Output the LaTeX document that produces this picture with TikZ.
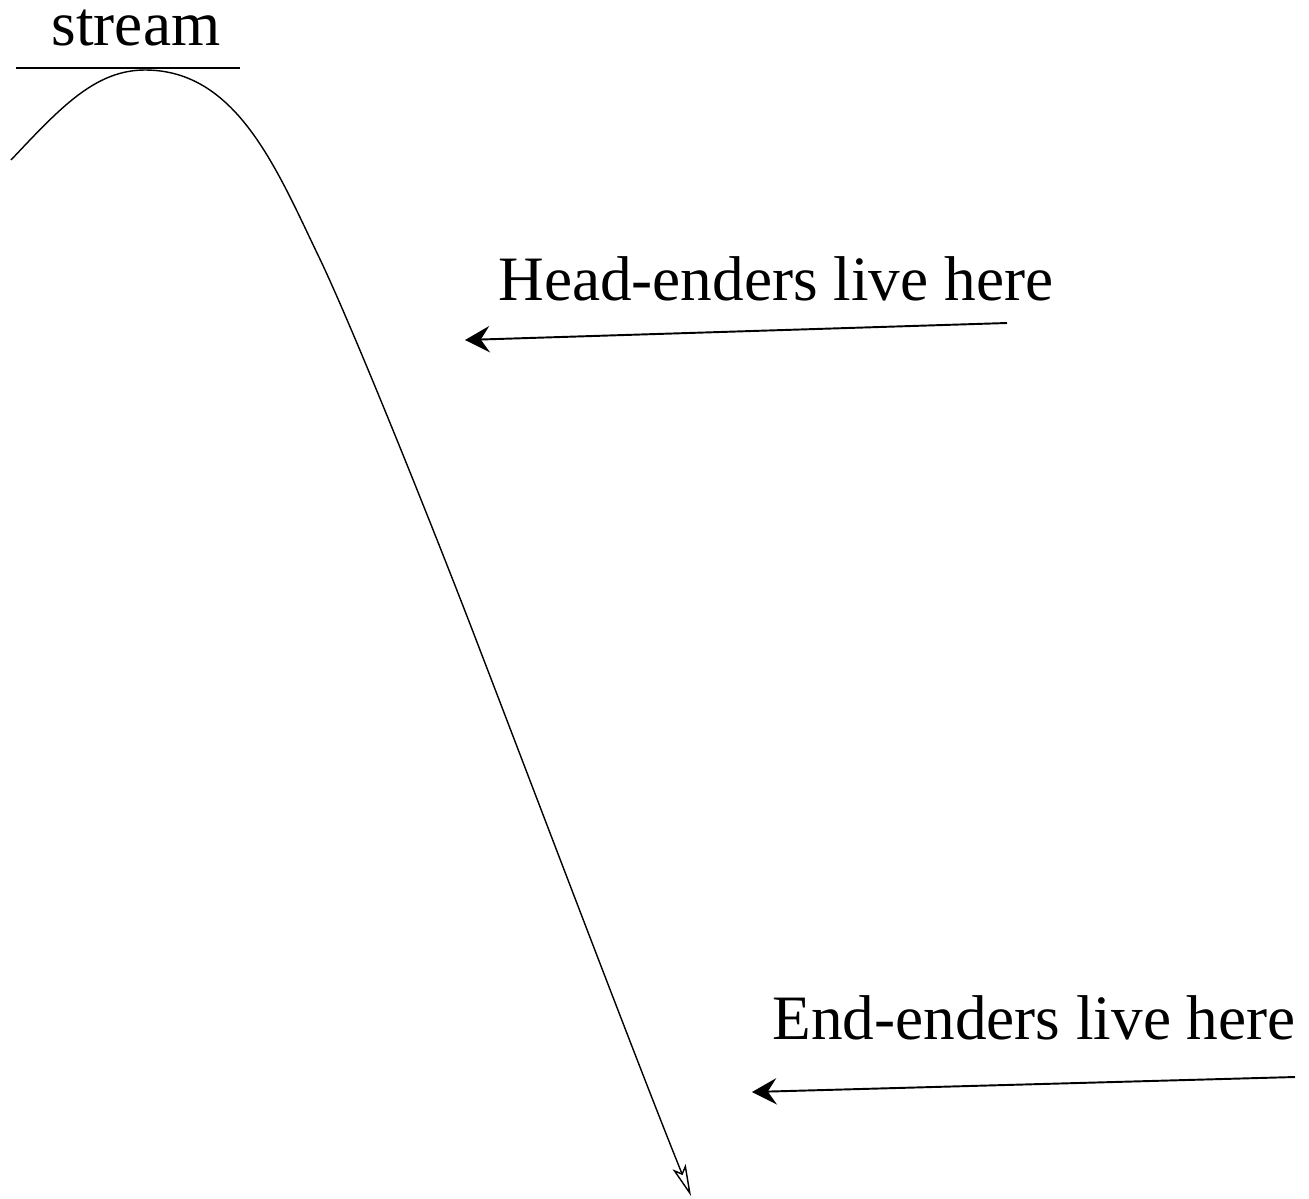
\documentclass[tikz,border=0pt]{standalone}
\usepackage{fontspec}
\setmainfont{Liberation Serif}
\usetikzlibrary{arrows.meta}
\begin{document}
\begin{tikzpicture}[x=0.02cm,y=-0.02cm,
  lbl/.style={inner sep=0pt,anchor=base west,font=\fontsize{36}{40}\selectfont},
  pointer/.style={line width=1.1pt,-{Stealth[length=14pt,width=15pt,inset=5pt]}},
  curve/.style={line width=0.8pt,-{Stealth[open,length=18pt,width=8pt,inset=4pt]}}]
\useasboundingbox (0,0) rectangle (1309,1198);
% stream label and underline
\node[lbl,anchor=base] (stream) at (136,45) {stream};
\coordinate (ulL) at (16,68);
\coordinate (ulR) at (240,68);
\draw[line width=1.1pt] (ulL) -- (ulR);
% the stream curve
\coordinate (c0) at (11,160);
\coordinate (c1) at (145,70);
\coordinate (c2) at (317,253);
\coordinate (c3) at (480,650);
\coordinate (c4) at (691,1196);
\draw[curve] (c0) .. controls (60,108) and (95,70) .. (c1)
  .. controls (235,70) and (275,165) .. (c2)
  .. controls (350,320) and (440,545) .. (c3)
  .. controls (530,780) and (640,1070) .. (c4);
% labels
\node[lbl] (head) at (498,300) {Head-enders live here};
\node[lbl] (endl) at (772,1039) {End-enders live here};
\coordinate (hs) at (1007,323);
\coordinate (he) at (465,340);
\coordinate (es) at (1295,1077);
\coordinate (ee) at (752,1092);
\draw[pointer] (hs) -- (he);
\draw[pointer] (es) -- (ee);
\end{tikzpicture}
\end{document}
